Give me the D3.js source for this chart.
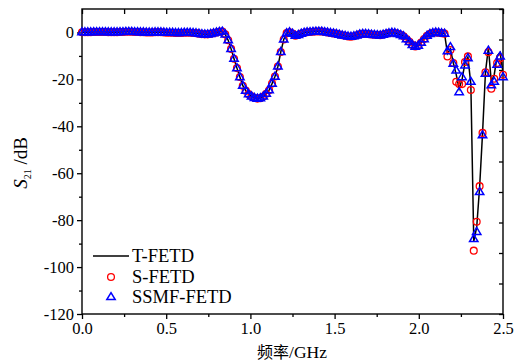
<!DOCTYPE html>
<html><head><meta charset="utf-8">
<script src="https://cdn.jsdelivr.net/npm/d3@7"></script>
<style>body{margin:0;background:#fff;} svg{display:block;}</style>
</head><body><svg id="c" width="523" height="364"></svg>
<script>
const xTicks = [0, 0.5, 1, 1.5, 2, 2.5];
const xMinorTicks = [0.25, 0.75, 1.25, 1.75, 2.25];
const yTicks = [-120, -100, -80, -60, -40, -20, 0];
const yMinorTicks = [-110, -90, -70, -50, -30, -10];
const legendLabels = ["T-FETD", "S-FETD", "SSMF-FETD"];
const F_STEP = 2.5 / 144; // GHz sampling step

// S21 (dB) common to all three methods, 0 .. 2.153 GHz
const sharedDB = [
  0.1, 0.1, 0.1, 0.1, 0.2, 0.2, 0.2, 0.2, 0.2, 0.1, 0.1,
  0.1, 0.1, 0.2, 0.2, 0.3, 0.3, 0.3, 0.2, 0.2, 0.1,
  0.1, 0.0, 0.0, 0.0, 0.1, 0.1, 0.1, 0.0, -0.1, -0.1,
  -0.1, -0.2, -0.2, -0.2, -0.1, -0.1, -0.1, -0.2, -0.3, -0.5,
  -0.7, -0.8, -0.8, -0.6, -0.3, 0.0,
  0.3, 0.4,
  -0.8, -3.3, -7.0, -11.2, -15.2, -19.0, -22.7, -24.8, -26.3, -27.2, -27.9, -28.2,
  -28.0, -27.3, -26.1, -24.6, -21.8, -18.8, -14.5, -8.3, -3.0, -0.3, 0.1,
  -0.5, -1.4, -1.0, -0.5, -0.1,
  0.1, 0.2, 0.3, 0.4, 0.4, 0.4, 0.2, 0.0, -0.2, -0.4,
  -0.6, -0.9, -1.2, -1.4, -1.7, -1.8, -1.6, -1.2, -0.8, -0.6,
  -0.6, -0.7, -0.9, -1.0, -1.1, -1.2, -0.9, -0.6, -0.3, -0.1,
  -0.2, -0.6, -1.0, -1.6, -2.8, -4.0, -5.3, -6.0, -5.6, -4.3,
  -2.8, -1.4, -0.6, -0.2, 0.0, -0.1, -0.3, -0.5
];
// 2.170 .. 2.500 GHz, where the methods differ
const tFetdTail = [-9, -7, -13, -18, -24, -20, -13, -10.5, -22, -89,
                   -83, -66, -43, -17, -6.5, -21, -18, -10, -8.5, -17];
const sFetdTail = [-10.2, -7.5, -13, -21, -22, -22, -12.6, -10.2, -24.5, -93,
                   -80.7, -65.5, -42.8, -17, -8.4, -24, -19.7, -13, -11, -18];
const ssmfTail  = [-8, -6.2, -13.3, -16.2, -25.4, -19, -14, -10.9, -21, -88,
                   -85, -68, -43.8, -17.6, -7.7, -22.5, -21, -13.7, -10.2, -19];

const tFetd = sharedDB.concat(tFetdTail);
const sFetd = sharedDB.concat(sFetdTail);
const ssmf = sharedDB.concat(ssmfTail);
const freqs = d3.range(tFetd.length).map(i => i * F_STEP);

const svg = d3.select("#c");
const L = 82, R = 503, T = 9, B = 314;
const x = d3.scaleLinear([0, 2.5], [L, R]);
const y = d3.scaleLinear([-120, 10], [B, T]);
const serif = "'Liberation Serif','Times New Roman',serif";

svg.append("defs").append("clipPath").attr("id", "clip")
  .append("rect").attr("x", L).attr("y", T).attr("width", R - L).attr("height", B - T);

function styleAxis(g) {
  g.select(".domain").remove();
  g.selectAll("line").attr("stroke", "#000").attr("stroke-width", 1.3);
  g.selectAll("text").attr("font-family", serif).attr("font-size", 16.5).attr("fill", "#000");
}

// bottom axis
svg.append("g").attr("transform", `translate(0,${B})`)
  .call(d3.axisBottom(x).tickValues(xTicks).tickSize(5).tickSizeOuter(0).tickPadding(3).tickFormat(d3.format(".1f")))
  .call(styleAxis);
svg.append("g").attr("transform", `translate(0,${B})`)
  .call(d3.axisBottom(x).tickValues(xMinorTicks).tickSize(3).tickSizeOuter(0).tickFormat(""))
  .call(styleAxis);
// left axis
svg.append("g").attr("transform", `translate(${L},0)`)
  .call(d3.axisLeft(y).tickValues(yTicks).tickSize(5).tickSizeOuter(0).tickPadding(3).tickFormat(d => String(d)))
  .call(styleAxis);
svg.append("g").attr("transform", `translate(${L},0)`)
  .call(d3.axisLeft(y).tickValues(yMinorTicks).tickSize(3).tickSizeOuter(0).tickFormat(""))
  .call(styleAxis);
// top axis (inward ticks)
svg.append("g").attr("transform", `translate(0,${T})`)
  .call(d3.axisTop(x).tickValues(xTicks.concat(xMinorTicks)).tickSize(-5).tickSizeOuter(0).tickFormat(""))
  .call(styleAxis);
// right axis (inward ticks, 10 equal divisions)
const rightTicks = d3.range(11).map(i => -120 + i * 13);
svg.append("g").attr("transform", `translate(${R},0)`)
  .call(d3.axisRight(y).tickValues(rightTicks).tickSize(-4).tickSizeOuter(0).tickFormat(""))
  .call(styleAxis);

svg.append("rect").attr("x", L).attr("y", T).attr("width", R - L).attr("height", B - T)
  .attr("fill", "none").attr("stroke", "#000").attr("stroke-width", 1.4);

const plot = svg.append("g").attr("clip-path", "url(#clip)");
plot.append("path")
  .datum(freqs.map((f, i) => [f, tFetd[i]]))
  .attr("d", d3.line().x(d => x(d[0])).y(d => y(d[1])))
  .attr("fill", "none").attr("stroke", "#000").attr("stroke-width", 1.5);

const marks = svg.append("g");
marks.selectAll("circle.s").data(freqs.map((f, i) => [f, sFetd[i]])).join("circle")
  .attr("class", "s")
  .attr("cx", d => x(d[0])).attr("cy", d => y(d[1])).attr("r", 3.4)
  .attr("fill", "none").attr("stroke", "#ff0000").attr("stroke-width", 1.3);

const triPath = "M0,-4.4L4.2,2.6L-4.2,2.6Z";
marks.selectAll("path.t").data(freqs.map((f, i) => [f, ssmf[i]])).join("path")
  .attr("class", "t")
  .attr("transform", d => `translate(${x(d[0])},${y(d[1])})`)
  .attr("d", triPath)
  .attr("fill", "none").attr("stroke", "#0000ff").attr("stroke-width", 1.5);

// legend
const lg = svg.append("g");
const rowsY = [256, 277, 297];
lg.append("line").attr("x1", 93).attr("x2", 129).attr("y1", rowsY[0]).attr("y2", rowsY[0])
  .attr("stroke", "#000").attr("stroke-width", 1.5);
lg.append("circle").attr("cx", 111).attr("cy", rowsY[1]).attr("r", 3.4)
  .attr("fill", "none").attr("stroke", "#ff0000").attr("stroke-width", 1.3);
lg.append("path").attr("transform", `translate(111,${rowsY[2]})`).attr("d", triPath)
  .attr("fill", "none").attr("stroke", "#0000ff").attr("stroke-width", 1.5);
lg.selectAll("text").data(legendLabels).join("text")
  .attr("x", 132).attr("y", (d, i) => rowsY[i] + 6)
  .attr("font-family", serif).attr("font-size", 18.5).text(d => d);

// axis titles
const xt = svg.append("text").attr("x", 292).attr("y", 358).attr("text-anchor", "middle")
  .attr("font-size", 17.5);
xt.append("tspan").attr("font-family", "'Noto Sans CJK SC',sans-serif").attr("font-size", 16).text("频率");
xt.append("tspan").attr("font-family", serif).text("/GHz");

const yt = svg.append("text").attr("transform", "translate(27,163) rotate(-90)")
  .attr("text-anchor", "middle").attr("font-family", serif).attr("font-size", 19);
yt.append("tspan").attr("font-style", "italic").text("S");
yt.append("tspan").attr("font-size", 10).attr("dy", 4).text("21");
yt.append("tspan").attr("dy", -4).text(" /dB");
</script></body></html>
